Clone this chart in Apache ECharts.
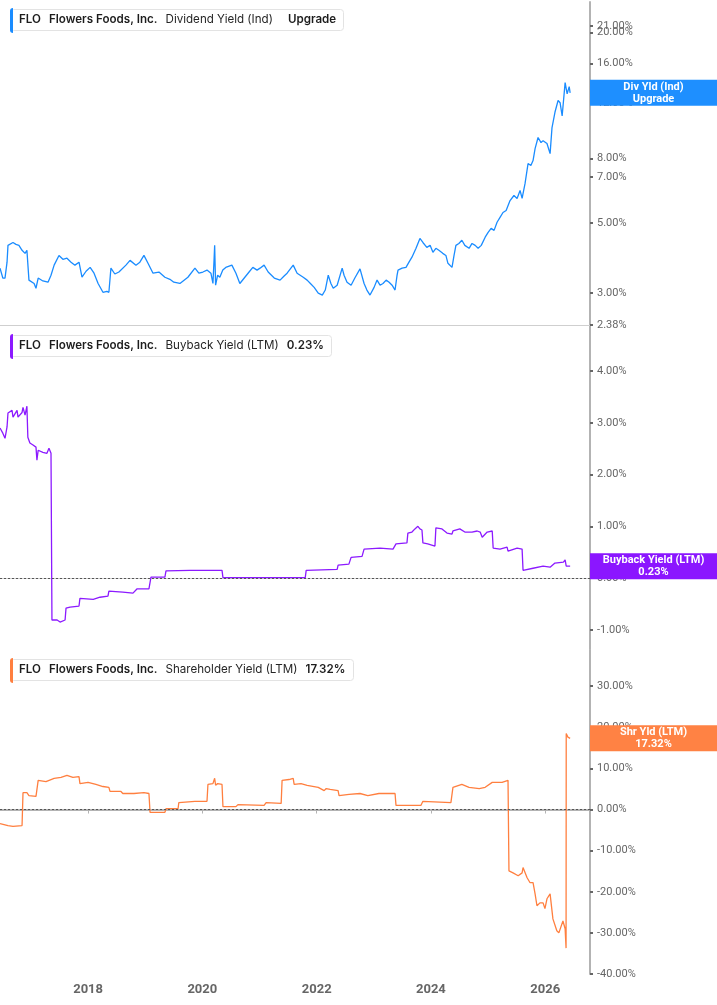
<!DOCTYPE html>
<html>
<head>
<meta charset="utf-8">
<script src="https://cdn.jsdelivr.net/npm/echarts@6/dist/echarts.min.js"></script>
<style>
  html, body { margin: 0; padding: 0; background: #fff; }
  #chart { width: 717px; height: 1005px; }
</style>
</head>
<body>
<div id="chart"></div>
<script>
// ---------- DATA ----------
const xMin = '2016-06-17';
const xMax = '2026-10-14';
const xTickYears = 2; // years between x labels

const divTicks = [2.38, 3, 5, 7, 8, 12, 16, 20];
const divTicksExtra = [21];
const buyTicks = [-1, 0, 1, 2, 3, 4];
const shrTicks = [-40, -30, -20, -10, 0, 10, 20, 30];

const divDates = ['2016-06-17','2016-07-05','2016-07-19','2016-08-01','2016-08-07','2016-09-08','2016-09-27','2016-10-16','2016-11-05','2016-11-24','2016-12-06','2016-12-19','2017-01-21','2017-02-02','2017-02-16','2017-03-18','2017-04-20','2017-05-09','2017-05-29','2017-06-29','2017-07-24','2017-08-19','2017-09-14','2017-10-09','2017-11-04','2017-11-23','2017-12-19','2018-01-14','2018-02-08','2018-03-06','2018-04-06','2018-05-01','2018-05-14','2018-05-27','2018-06-21','2018-07-17','2018-08-31','2018-09-26','2018-11-03','2018-11-28','2018-12-24','2019-01-19','2019-02-20','2019-03-30','2019-05-07','2019-06-08','2019-07-03','2019-08-11','2019-10-01','2019-11-15','2019-12-10','2020-01-05','2020-01-31','2020-02-25','2020-03-09','2020-03-16','2020-03-20','2020-03-26','2020-04-08','2020-04-22','2020-05-11','2020-05-30','2020-07-08','2020-08-03','2020-08-28','2020-09-29','2020-10-26','2020-11-19','2020-12-16','2021-01-04','2021-01-30','2021-02-25','2021-04-05','2021-05-12','2021-06-07','2021-06-26','2021-08-04','2021-08-29','2021-10-07','2021-11-01','2021-11-22','2021-12-16','2022-01-11','2022-02-06','2022-02-25','2022-03-16','2022-04-02','2022-04-17','2022-05-12','2022-06-13','2022-06-25','2022-07-14','2022-08-09','2022-09-02','2022-10-05','2022-10-31','2022-11-18','2022-12-08','2023-01-03','2023-01-22','2023-02-10','2023-03-01','2023-03-21','2023-04-09','2023-04-28','2023-05-17','2023-05-30','2023-06-05','2023-07-01','2023-07-26','2023-08-14','2023-09-02','2023-09-28','2023-10-23','2023-11-11','2023-12-06','2023-12-27','2024-01-14','2024-02-02','2024-02-21','2024-03-17','2024-04-06','2024-04-19','2024-05-15','2024-05-28','2024-06-09','2024-06-28','2024-07-17','2024-08-05','2024-09-01','2024-09-20','2024-10-10','2024-10-29','2024-11-18','2024-12-13','2025-01-01','2025-01-20','2025-02-08','2025-02-27','2025-03-18','2025-04-06','2025-04-26','2025-05-21','2025-06-15','2025-07-05','2025-07-24','2025-08-06','2025-08-25','2025-09-13','2025-10-01','2025-10-15','2025-10-28','2025-11-16','2025-12-05','2025-12-18','2026-01-12','2026-02-01','2026-02-13','2026-03-04','2026-03-24','2026-04-06','2026-04-19','2026-05-08','2026-05-21','2026-06-03','2026-06-09'];
const divYield = [3.60,3.35,3.35,3.76,4.25,4.34,4.28,4.25,4.10,4.01,4.10,3.30,3.22,3.11,3.35,3.28,3.25,3.42,3.68,3.95,3.84,3.87,3.76,3.68,3.76,3.37,3.52,3.62,3.47,3.22,3.02,3.04,3.02,3.60,3.45,3.50,3.68,3.81,3.68,3.76,3.95,3.73,3.47,3.50,3.37,3.32,3.25,3.22,3.37,3.60,3.47,3.50,3.55,3.47,3.22,3.81,4.25,3.18,3.42,3.37,3.55,3.62,3.68,3.47,3.22,3.37,3.50,3.62,3.55,3.60,3.68,3.50,3.35,3.30,3.40,3.47,3.68,3.47,3.37,3.30,3.22,3.13,3.00,2.96,3.07,3.42,3.22,3.11,3.18,3.60,3.42,3.25,3.18,3.35,3.58,3.22,3.07,2.96,3.13,3.30,3.18,3.22,3.30,3.25,3.18,3.07,3.42,3.55,3.60,3.62,3.76,3.90,4.16,4.47,4.34,4.19,4.25,4.04,4.16,4.10,4.01,3.95,3.73,3.62,3.95,4.25,4.31,4.41,4.25,4.16,4.31,4.25,4.16,4.25,4.51,4.67,4.81,4.74,5.03,5.21,5.40,5.48,5.89,6.11,5.98,6.34,5.98,6.67,7.71,7.60,7.88,8.60,9.32,8.98,9.11,8.92,8.29,10.0,11.2,12.2,12.0,10.9,13.9,12.8,13.5,12.9];

const buyDates = ['2016-06-17','2016-07-05','2016-07-19','2016-08-01','2016-08-07','2016-09-02','2016-09-08','2016-10-04','2016-10-10','2016-11-05','2016-11-11','2016-11-24','2016-12-06','2016-12-12','2016-12-25','2017-01-14','2017-02-02','2017-02-08','2017-02-16','2017-03-18','2017-04-13','2017-04-26','2017-05-09','2017-05-15','2017-06-17','2017-07-06','2017-08-07','2017-08-13','2017-09-08','2017-11-04','2017-11-10','2018-02-03','2018-03-18','2018-05-08','2018-05-14','2018-08-11','2018-10-15','2018-11-09','2019-01-25','2019-02-07','2019-05-07','2019-05-14','2019-10-14','2020-03-09','2020-03-20','2020-05-06','2020-05-12','2021-10-20','2021-10-26','2022-05-12','2022-05-18','2022-07-26','2022-08-09','2022-10-18','2022-10-31','2023-02-10','2023-05-04','2023-05-23','2023-08-01','2023-08-07','2023-09-02','2023-09-21','2023-10-10','2023-10-23','2023-11-05','2023-11-11','2023-12-12','2024-01-27','2024-02-02','2024-03-12','2024-04-13','2024-05-15','2024-05-21','2024-07-04','2024-08-05','2024-09-20','2024-10-23','2024-11-11','2024-11-24','2024-12-26','2025-01-27','2025-02-02','2025-03-18','2025-05-02','2025-05-08','2025-07-05','2025-08-06','2025-08-12','2025-10-15','2025-12-18','2026-02-01','2026-03-04','2026-04-27','2026-05-08','2026-05-15','2026-06-09'];
const buyYield = [2.90,2.80,2.70,2.92,3.19,3.24,3.11,3.24,3.11,3.20,3.30,3.15,3.32,2.72,2.61,2.57,2.53,2.28,2.47,2.43,2.41,2.51,2.41,-0.81,-0.81,-0.85,-0.81,-0.58,-0.56,-0.54,-0.39,-0.41,-0.37,-0.35,-0.25,-0.27,-0.29,-0.21,-0.21,0.02,0.02,0.14,0.15,0.15,0.17,0.15,0.01,0.01,0.15,0.17,0.25,0.27,0.40,0.42,0.56,0.58,0.56,0.66,0.68,0.87,0.89,0.95,1.00,0.95,0.93,0.68,0.66,0.62,0.97,0.95,0.87,0.85,0.91,0.95,0.89,0.89,0.91,0.89,0.79,0.89,0.91,0.58,0.56,0.60,0.52,0.58,0.56,0.15,0.19,0.23,0.21,0.29,0.31,0.35,0.23,0.23];

const shrDates = ['2016-06-17','2016-08-07','2016-09-08','2016-11-05','2016-11-11','2016-12-06','2016-12-19','2017-02-02','2017-02-16','2017-04-07','2017-05-29','2017-07-12','2017-08-19','2017-09-26','2017-11-04','2017-11-10','2018-01-01','2018-02-20','2018-04-06','2018-05-14','2018-05-21','2018-07-30','2018-08-11','2018-10-21','2018-12-24','2019-01-25','2019-02-01','2019-05-07','2019-05-14','2019-07-30','2019-08-04','2019-11-15','2020-01-31','2020-02-06','2020-03-09','2020-03-20','2020-03-26','2020-04-08','2020-05-06','2020-05-12','2020-08-03','2020-08-16','2021-01-30','2021-02-12','2021-05-19','2021-05-25','2021-07-08','2021-08-04','2021-08-10','2021-09-23','2021-11-01','2022-01-11','2022-02-18','2022-03-03','2022-03-28','2022-05-18','2022-05-24','2022-07-27','2022-10-05','2022-11-24','2023-02-03','2023-05-17','2023-05-23','2023-10-29','2023-11-11','2024-05-08','2024-05-21','2024-07-17','2024-09-01','2024-11-05','2024-12-13','2025-01-27','2025-03-31','2025-05-08','2025-05-14','2025-06-09','2025-07-12','2025-08-06','2025-08-12','2025-09-07','2025-09-26','2025-10-15','2025-10-28','2025-11-09','2025-11-28','2025-12-18','2025-12-30','2026-01-12','2026-02-01','2026-02-13','2026-02-19','2026-03-16','2026-03-29','2026-04-24','2026-05-08','2026-05-14','2026-05-15','2026-05-26','2026-06-03','2026-06-09'];
const shrYield = [-3.4,-3.9,-4.1,-3.9,4.1,4.1,3.4,3.2,7.1,6.8,7.6,7.8,8.3,7.8,8.0,6.3,6.6,6.1,5.6,5.4,4.4,4.4,3.9,3.9,4.1,3.9,-0.7,-0.7,0.2,0.2,1.7,2.0,2.0,6.1,6.3,7.6,5.9,6.3,6.1,0.7,0.7,1.2,1.0,1.7,1.5,7.1,7.3,7.6,6.1,6.3,5.9,5.4,4.6,5.1,4.9,4.6,3.4,3.7,3.9,3.4,3.9,3.9,1.0,1.0,2.0,1.7,5.4,6.1,5.4,5.1,5.4,6.6,6.6,7.1,-14.9,-15.4,-16.1,-15.4,-14.1,-16.6,-17.8,-17.8,-20.5,-23.4,-22.7,-22.7,-24.1,-21.7,-20.5,-24.6,-26.6,-29.5,-30.0,-27.1,-29.0,-33.7,18.5,17.6,18.0,17.32];

const headers = [
  { ticker: 'FLO', name: 'Flowers Foods, Inc.', metric: 'Dividend Yield (Ind)', value: 'Upgrade' },
  { ticker: 'FLO', name: 'Flowers Foods, Inc.', metric: 'Buyback Yield (LTM)', value: '0.23%' },
  { ticker: 'FLO', name: 'Flowers Foods, Inc.', metric: 'Shareholder Yield (LTM)', value: '17.32%' }
];
const tagLines = [['Div Yld (Ind)', 'Upgrade'], ['Buyback Yield (LTM)', '0.23%'], ['Shr Yld (LTM)', '17.32%']];
const colors = ['#1a8cff', '#8c1aff', '#ff7f3f'];
const tagColors = ['#1e8fff', '#8b16ff', '#ff8244'];

// ---------- CHART ----------
const chart = echarts.init(document.getElementById('chart'), null, { renderer: 'canvas' });
const zip = (d, v) => d.map((x, i) => [x, v[i]]);

const grids = [
  { left: 0, right: 127, top: 2, height: 323 },
  { left: 0, right: 127, top: 325, height: 324 },
  { left: 0, right: 127, top: 650, height: 324 }
];
const headerTops = [8, 334, 658];

const labelFont = { fontFamily: 'Roboto', fontSize: 11, color: '#666' };
const YEAR_MS = 365.25 * 24 * 3600 * 1000;

function xAxisCfg(i) {
  const last = i === 2;
  return {
    type: 'time', gridIndex: i, min: xMin, max: xMax,
    minInterval: xTickYears * YEAR_MS * 0.98,
    maxInterval: xTickYears * YEAR_MS * 1.02,
    axisLine: { show: true, lineStyle: { color: last ? '#b3b3b3' : '#cfcfcf', width: last ? 2 : 1 } },
    axisTick: { show: last, length: 4, lineStyle: { color: '#b3b3b3' } },
    axisLabel: {
      show: last, margin: 9, showMinLabel: false, showMaxLabel: false,
      fontFamily: 'Roboto', fontSize: 13, fontWeight: 'bold', color: '#666',
      formatter: v => String(new Date(v).getFullYear())
    },
    splitLine: { show: false }
  };
}

function yAxisCfg(i, type, min, max, ticks, fmt, showLine) {
  return {
    type: type, gridIndex: i, position: 'right', offset: 0, min: min, max: max,
    logBase: 10,
    axisLine: { show: showLine !== false, lineStyle: { color: '#b3b3b3', width: 2 } },
    axisTick: { show: true, length: 3, customValues: ticks, lineStyle: { color: '#666', width: 2 } },
    axisLabel: Object.assign({ customValues: ticks, margin: 7, formatter: fmt, hideOverlap: false }, labelFont),
    splitLine: { show: false }
  };
}

const pctFmt = v => Number(v).toFixed(2) + '%';

function headerTitle(i) {
  const h = headers[i];
  const lastGap = i === 0 ? 'S' : 's';
  return {
    left: 10, top: headerTops[i],
    padding: [5, 8, 5, 9],
    backgroundColor: '#fff', borderColor: '#e3e3e3', borderWidth: 1, borderRadius: 3,
    text: '{b|' + h.ticker + '}{s| }{b|' + h.name + '}{s| }{n|' + h.metric + '}{' + lastGap + '| }{b|' + h.value + '}',
    textStyle: {
      rich: {
        b: { fontFamily: 'Inter', fontWeight: 600, fontSize: 11.6, color: '#1d1d1d', lineHeight: 14 },
        n: { fontFamily: 'Inter', fontWeight: 400, fontSize: 11.6, color: '#262626', lineHeight: 14 },
        s: { width: 8, fontSize: 11.6, lineHeight: 14 },
        S: { width: 15, fontSize: 11.6, lineHeight: 14 }
      }
    }
  };
}

const zeroLine = {
  silent: true, symbol: 'none', animation: false,
  label: { show: false },
  lineStyle: { type: [2, 2], color: '#555', width: 1 },
  data: [{ yAxis: 0 }]
};

const option = {
  animation: false,
  backgroundColor: '#fff',
  title: [headerTitle(0), headerTitle(1), headerTitle(2)],
  grid: grids,
  xAxis: [xAxisCfg(0), xAxisCfg(1), xAxisCfg(2)],
  yAxis: [
    yAxisCfg(0, 'log', 2.38, 25, divTicks, pctFmt),
    yAxisCfg(1, 'value', -1.37, 4.89, buyTicks, pctFmt),
    yAxisCfg(2, 'value', -40, 38.8, shrTicks, pctFmt),
    yAxisCfg(0, 'log', 2.38, 25, divTicksExtra, pctFmt, false)
  ],
  series: [
    { type: 'line', xAxisIndex: 0, yAxisIndex: 0, data: zip(divDates, divYield), showSymbol: false, symbol: 'none',
      lineStyle: { color: colors[0], width: 1.3 }, itemStyle: { color: colors[0] } },
    { type: 'line', xAxisIndex: 1, yAxisIndex: 1, data: zip(buyDates, buyYield), showSymbol: false, symbol: 'none',
      lineStyle: { color: colors[1], width: 1.3 }, itemStyle: { color: colors[1] }, markLine: zeroLine },
    { type: 'line', xAxisIndex: 2, yAxisIndex: 2, data: zip(shrDates, shrYield), showSymbol: false, symbol: 'none',
      lineStyle: { color: colors[2], width: 1.3 }, itemStyle: { color: colors[2] }, markLine: zeroLine }
  ]
};
chart.setOption(option);

// ---------- overlays: header color bars and right-side value tags ----------
const lastVals = [divYield[divYield.length - 1], buyYield[buyYield.length - 1], shrYield[shrYield.length - 1]];
const graphics = [];
const axisX = chart.convertToPixel({ xAxisIndex: 0 }, xMax);
const chartW = chart.getWidth();
for (let i = 0; i < 3; i++) {
  graphics.push({
    type: 'rect', z: 100, shape: { x: 10, y: headerTops[i], width: 3, height: 25, r: [3, 0, 0, 3] },
    style: { fill: colors[i] }
  });
  const cy = chart.convertToPixel({ yAxisIndex: i }, lastVals[i]);
  const h = 26;
  graphics.push({
    type: 'rect', z: 100, shape: { x: axisX, y: cy - h / 2, width: chartW - axisX, height: h },
    style: { fill: tagColors[i] }
  });
  graphics.push({
    type: 'text', z: 101, x: (axisX + chartW) / 2, y: cy,
    style: {
      text: tagLines[i].join('\n'), fill: '#fff', align: 'center', verticalAlign: 'middle',
      font: 'bold 11px Roboto', lineHeight: 12
    }
  });
}
chart.setOption({ graphic: graphics });
</script>
</body>
</html>
